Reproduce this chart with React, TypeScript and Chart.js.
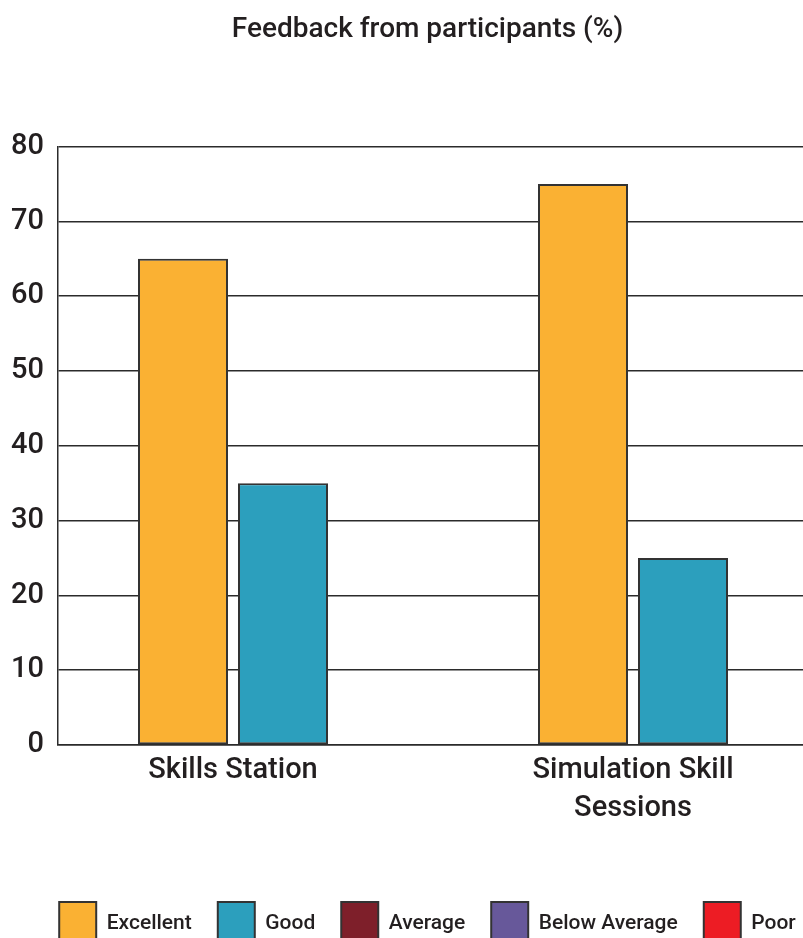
import React, { useEffect, useRef } from "react";
import { Chart, registerables } from "chart.js";

Chart.register(...registerables);

const categories: (string | string[])[] = ["Skills Station", ["Simulation Skill", "Sessions"]];
const seriesNames = ["Excellent", "Good", "Average", "Below Average", "Poor"];
const excellent = [65, 75];
const good = [35, 25];
const average: (number | null)[] = [null, null];
const belowAverage: (number | null)[] = [null, null];
const poor: (number | null)[] = [null, null];
const seriesColors = ["#FAB133", "#2C9FBD", "#7E1F2A", "#67589A", "#ED1C24"];
const yTicks = [0, 10, 20, 30, 40, 50, 60, 70, 80];

const FONT = "Roboto, 'Liberation Sans', Arial, sans-serif";
const INK = "#231f20";

export default function App() {
  const ref = useRef<HTMLCanvasElement | null>(null);

  useEffect(() => {
    if (!ref.current) return;
    const values = [excellent, good, average, belowAverage, poor];
    const datasets = seriesNames.map((name, si) => ({
      label: name,
      data: values[si].map((v, i) => ({ x: i, y: v })),
      backgroundColor: seriesColors[si],
      borderColor: "#333333",
      borderWidth: 2,
      borderSkipped: false as const,
      categoryPercentage: 0.5,
      barPercentage: 0.9,
      skipNull: true,
    }));

    const chart = new Chart(ref.current, {
      type: "bar",
      data: { datasets },
      options: {
        animation: false,
        responsive: false,
        layout: { padding: 0 },
        plugins: {
          tooltip: { enabled: false },
          title: {
            display: true,
            text: "Feedback from participants (%)",
            color: INK,
            font: { family: FONT, size: 28, weight: 500 },
            padding: { top: 13, bottom: 100 },
          },
          legend: {
            position: "bottom",
            labels: {
              color: INK,
              font: { family: FONT, size: 21, weight: 500 },
              boxWidth: 37,
              boxHeight: 44,
              padding: 26,
            },
          },
        },
        scales: {
          x: {
            type: "linear",
            min: -0.4375,
            max: 1.555,
            offset: false,
            grid: { display: false, drawTicks: false },
            border: { display: true, color: "#2b2b2b", width: 1.5 },
            afterBuildTicks: (scale: any) => {
              scale.ticks = categories.map((_, i) => ({ value: i }));
            },
            afterFit: (scale: any) => {
              scale.height = 131;
            },
            ticks: {
              autoSkip: false,
              maxRotation: 0,
              padding: 7,
              color: INK,
              font: { family: FONT, size: 29, weight: 500, lineHeight: 1.3 },
              callback: (value: any) => categories[value as number] as any,
            },
          },
          y: {
            min: 0,
            max: 80,
            afterBuildTicks: (scale: any) => {
              scale.ticks = yTicks.map((v) => ({ value: v }));
            },
            afterFit: (scale: any) => {
              scale.width = 58;
            },
            grid: { color: "#2b2b2b", lineWidth: 1.5, drawTicks: false },
            border: { display: true, color: "#2b2b2b", width: 1.5 },
            ticks: {
              padding: 14,
              color: INK,
              font: { family: FONT, size: 29, weight: 500 },
            },
          },
        },
      } as any,
    });
    return () => chart.destroy();
  }, []);

  return (
    <div
      style={{
        position: "fixed",
        left: 0,
        top: 0,
        width: 803,
        height: 938,
        overflow: "hidden",
        background: "#ffffff",
      }}
    >
      <canvas ref={ref} width={855} height={956} style={{ display: "block" }} />
    </div>
  );
}
